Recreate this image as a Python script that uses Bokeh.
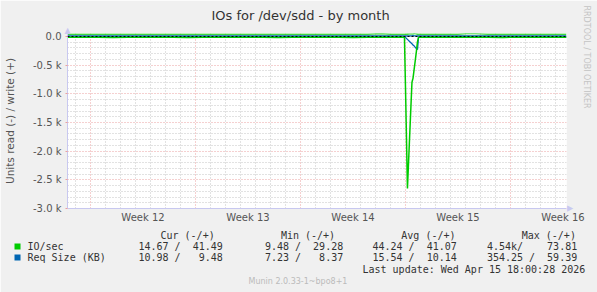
from bokeh.plotting import figure
from bokeh.models import FixedTicker, Span, Range1d, Title
from bokeh.embed import file_html
from bokeh.resources import INLINE

# ---------------- data (days relative to Monday of week 12) ----------------
days = [-1.53, -0.5, 0.5, 1.5, 2.5, 3.5, 4.5, 5.5, 6.5, 7.5, 8.5, 9.5, 10.5,
        11.5, 12.5, 13.5, 14.5, 15.5, 16.5, 17.5, 18.5, 19.3, 20.0, 20.9,
        20.93, 21.0, 21.13, 21.27, 21.43, 21.47, 21.5, 21.6, 21.65, 21.73,
        21.8, 21.87, 22.5, 23.5, 24.5, 25.3, 26.5, 27.5, 28.5, 29.5, 30.5,
        31.73]
io_read = [-14, -15, -13, -16, -14, -15, -13, -14, -16, -15, -14, -13, -15,
           -14, -16, -14, -13, -15, -14, -16, -15, -14, -15, -15,
           -15, -900, -2650, -1780, -800, -760, -730, -520, -420, -250,
           -90, -15, -14, -15, -13, -14, -15, -16, -14, -13, -15,
           -14]
io_write = [41, 40, 42, 41, 40, 42, 41, 40, 41, 42, 40, 41, 42,
            41, 40, 41, 42, 40, 41, 42, 41, 52, 42, 41,
            41, 42, 43, 44, 45, 46, 47, 52, 48, 45,
            43, 42, 41, 40, 42, 53, 41, 40, 42, 41, 40,
            41]
req_read = [-10, -11, -9, -10, -12, -10, -9, -11, -10, -10, -12, -9, -10,
            -11, -10, -9, -11, -10, -12, -10, -11, -10, -10, -10,
            -12, -17, -50, -87, -125, -140, -150, -170, -192, -210,
            -227, -11, -10, -11, -9, -10, -12, -10, -9, -11, -10,
            -10]
req_write = [9, 10, 9, 8, 10, 9, 9, 10, 8, 9, 10, 9, 9,
             8, 10, 9, 9, 10, 9, 8, 9, 10, 9, 9,
             9, 10, 11, 12, 12, 13, 13, 12, 11, 10,
             9, 9, 10, 9, 8, 10, 9, 9, 10, 9, 9,
             9]

y_ticks = [-3000, -2500, -2000, -1500, -1000, -500, 0]
y_tick_labels = ["-3.0 k", "-2.5 k", "-2.0 k", "-1.5 k", "-1.0 k", "-0.5 k", "0.0"]
week_mids = [3.5, 10.5, 17.5, 24.5, 31.5]
week_labels = ["Week 12", "Week 13", "Week 14", "Week 15", "Week 16"]
week_starts = [0, 7, 14, 21, 28]

series_names = ["IO/sec", "Req Size (KB)"]
stat_headers = ["Cur (-/+)", "Min (-/+)", "Avg (-/+)", "Max (-/+)"]
io_cells = ["14.67 /  41.49", "9.48 /  29.28", "44.24 /  41.07", "4.54k/    73.81"]
req_cells = ["10.98 /   9.48", "7.23 /   8.37", "15.54 /  10.14", "354.25 /  59.39"]
last_update = "Last update: Wed Apr 15 18:00:28 2026"
footer = "Munin 2.0.33-1~bpo8+1"
watermark = "RRDTOOL / TOBI OETIKER"
title_text = "IOs for /dev/sdd - by month"
y_axis_label = "Units read (-) / write (+)"

GREEN = "#00cc00"
BLUE = "#0066b3"
BG = "#f0f0f0"
TXT = "#333333"
AX_COL = "#c8c8f0"
MONO = "DejaVu Sans Mono"
SANS = "DejaVu Sans"
NB = "\u00a0"
EM_H = 1.164   # line box height of DejaVu fonts, in em

W, H = 597, 292
FL, FR, FT, FB = 67, 566, 33, 208

p = figure(width=W, height=H, x_range=Range1d(-1.533, 31.733),
           y_range=Range1d(-3000, 52), output_backend="svg",
           toolbar_location=None, title=None,
           min_border_left=FL, min_border_right=W - FR,
           min_border_top=FT, min_border_bottom=H - FB)
p.border_fill_color = BG
p.background_fill_color = "white"
p.outline_line_color = None

# ---------------- grids ----------------
minor_y = [v for v in range(-2900, 0, 100) if v % 500 != 0]
p.ygrid.ticker = FixedTicker(ticks=y_ticks, minor_ticks=minor_y)
day_lines = [d for d in range(-1, 32) if d % 7 != 0]
p.xgrid.ticker = FixedTicker(ticks=week_starts, minor_ticks=day_lines)
for g in (p.xgrid[0], p.ygrid[0]):
    g.grid_line_color = "#eba0a0"
    g.grid_line_dash = "1 2"
    g.minor_grid_line_color = "#c4c4c4"
    g.minor_grid_line_dash = "1 2"

# ---------------- axes ----------------
p.yaxis.ticker = FixedTicker(ticks=y_ticks)
p.yaxis.major_label_overrides = dict(zip(y_ticks, y_tick_labels))
p.xaxis.ticker = FixedTicker(ticks=week_mids)
p.xaxis.major_label_overrides = dict(zip(week_mids, week_labels))
for ax in (p.xaxis[0], p.yaxis[0]):
    ax.axis_line_color = AX_COL
    ax.minor_tick_line_color = None
    ax.major_label_text_font = SANS
    ax.major_label_text_font_size = "10px"
    ax.major_label_text_color = "#555555"
p.xaxis.major_tick_line_color = None
p.xaxis.major_tick_out = 0
p.xaxis.major_tick_in = 0
p.xaxis.major_label_standoff = 3
p.yaxis.major_tick_line_color = "#eba0a0"
p.yaxis.major_tick_out = 2
p.yaxis.major_tick_in = 0
p.yaxis.major_label_standoff = 4
p.yaxis.axis_label = y_axis_label
p.yaxis.axis_label_text_font = SANS
p.yaxis.axis_label_text_font_size = "10.5px"
p.yaxis.axis_label_text_font_style = "normal"
p.yaxis.axis_label_text_color = "#555555"
p.yaxis.axis_label_standoff = 14

# ---------------- data lines ----------------
p.line(days, io_write, line_color=GREEN, line_width=1.3)
p.line(days, req_write, line_color=BLUE, line_width=1.3)
p.line(days, req_read, line_color=BLUE, line_width=1.3)
p.line(days, io_read, line_color=GREEN, line_width=1.5)
p.add_layout(Span(location=0, dimension="width", line_color="black",
                  line_width=1, line_dash="2 2"))


# ---------------- helpers for texts around the frame ----------------
def gap(z, side):
    """Empty title of thickness z in the stack of the given side panel."""
    p.add_layout(Title(text=NB, standoff=z - 2 - EM_H * 10, text_font=MONO,
                       text_font_size="10px"), side)


def text_at(text, pos, side="below", size=10, color=TXT, font=MONO,
            align="left", bg=None):
    """Title of (about) zero thickness centred on the current stack position."""
    if side in ("below", "above"):
        off = pos - FL if align == "left" else FR - pos
    else:
        off = pos - FT
    t = Title(text=text, align=align, offset=off, vertical_align="middle",
              standoff=-(2 + EM_H * size), text_font=font,
              text_font_size=f"{size}px", text_font_style="normal",
              text_color=color)
    if bg is not None:
        t.background_fill_color = bg
    p.add_layout(t, side)


# ---------------- above: y-axis arrow + title ----------------
gap(3.5, "above")
text_at("▲", 67 - 0.385 * 8, side="above", size=8, color=AX_COL, font=SANS)
gap(9.0, "above")
p.add_layout(Title(text=title_text, align="left", offset=144,
                   vertical_align="bottom", standoff=0, text_font=SANS,
                   text_font_size="13px", text_font_style="normal",
                   text_color="#333333"), "above")

# ---------------- right: x-axis arrow + watermark ----------------
gap(4.5, "right")
text_at("▲", 208 - 0.385 * 8, side="right", size=8, color=AX_COL, font=SANS)
gap(11.5, "right")
p.add_layout(Title(text=watermark, align="left", offset=-28,
                   vertical_align="bottom", standoff=0, text_font=SANS,
                   text_font_size="8px", text_font_style="normal",
                   text_color="#c4c4c4"), "right")


# ---------------- legend block (below) ----------------
def pad_join(parts):
    s = ""
    for col, txt in parts:
        s += " " * max(col - len(s), 0) + txt
    return s.replace(" ", NB)


AXIS_H = 14.6
gap(233 - (FB + AXIS_H), "below")
text_at(pad_join(list(zip([0, 20, 40, 60], stat_headers))), 160)
gap(12, "below")
text_at(NB * 2, 14, size=5, bg=GREEN)
text_at(series_names[0], 27)
text_at(pad_join([(0, io_cells[0]), (21, io_cells[1])]), 138)
text_at(pad_join([(0, io_cells[2]), (19, io_cells[3])]), 372)
gap(12, "below")
text_at(NB * 2, 14, size=5, bg=BLUE)
text_at(series_names[1], 27)
text_at(pad_join([(0, req_cells[0]), (21, req_cells[1])]), 138)
text_at(pad_join([(0, req_cells[2]), (19, req_cells[3])]), 372)
gap(13, "below")
text_at(last_update, 362)
gap(13, "below")
text_at(footer, 248, size=8, color="#bbbbbb", font=SANS)

open("out.html", "w").write(file_html(p, INLINE))
